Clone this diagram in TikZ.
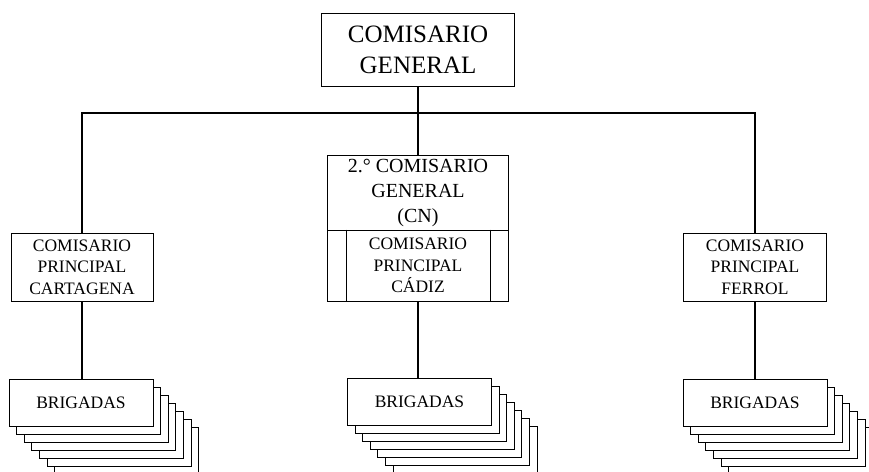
\documentclass[tikz,border=0pt]{standalone}
\usepackage{fontspec}
\setmainfont{Liberation Serif}
\usetikzlibrary{calc}

\tikzset{
  box/.style={draw, line width=0.9pt, fill=white, align=center, inner sep=0pt},
  link/.style={line width=2pt},
  big/.style={font=\fontsize{25}{31}\selectfont},
  mid/.style={font=\fontsize{20}{25}\selectfont},
  small/.style={font=\fontsize{17.5}{21.7}\selectfont},
  brig/.style={box, small, minimum width=144pt, minimum height=47pt},
}

%% pile of brigadas boxes: #1 name, #2 centre of the front box
\newcommand{\brigadas}[2]{%
  \foreach \k in {6,...,1}
    \node[brig] (#1-\k) at ($(#2)+(\k*7.6,\k*8)$) {};
  \node[brig] (#1) at (#2) {BRIGADAS};
}

\begin{document}
\begin{tikzpicture}[x=1pt,y=-1pt]
    \useasboundingbox (0,0) rectangle (869,471);
    \clip (0,0) rectangle (869,471);

    %% top
    \node[box, big, minimum width=193pt, minimum height=73pt] (cg) at (418,49.5) {COMISARIO\\GENERAL};

    %% middle column
    \node[box, mid, minimum width=181pt, minimum height=75pt] (sg) at (418,192.5) {2.° COMISARIO\\GENERAL\\(CN)};
    \node[box, small, minimum width=181pt, minimum height=71pt] (cad) at (418,265.5) {COMISARIO\\PRINCIPAL\\CÁDIZ};
    \draw[line width=0.9pt] ([xshift=19pt]cad.north west) -- ([xshift=19pt]cad.south west);
    \draw[line width=0.9pt] ([xshift=-19pt]cad.north east) -- ([xshift=-19pt]cad.south east);

    %% side boxes
    \node[box, small, minimum width=142pt, minimum height=68pt] (car) at (82,267) {COMISARIO\\PRINCIPAL\\CARTAGENA};
    \node[box, small, minimum width=143pt, minimum height=68pt] (fer) at (755,267) {COMISARIO\\PRINCIPAL\\FERROL};

    %% brigadas
    \brigadas{bcar}{81,402.5}
    \brigadas{bcad}{419.5,401.5}
    \brigadas{bfer}{755,402.5}

    %% lines
    \coordinate (bus) at (418,113);
    \draw[link] (cg.south) -- (cg.south |- sg.north);
    \draw[link] (car.north) |- (bus) -| (fer.north);
    \draw[link] (car.south) -- (car.south |- bcar.north);
    \draw[link] (cad.south) -- (cad.south |- bcad.north);
    \draw[link] (fer.south) -- (fer.south |- bfer.north);
\end{tikzpicture}
\end{document}
